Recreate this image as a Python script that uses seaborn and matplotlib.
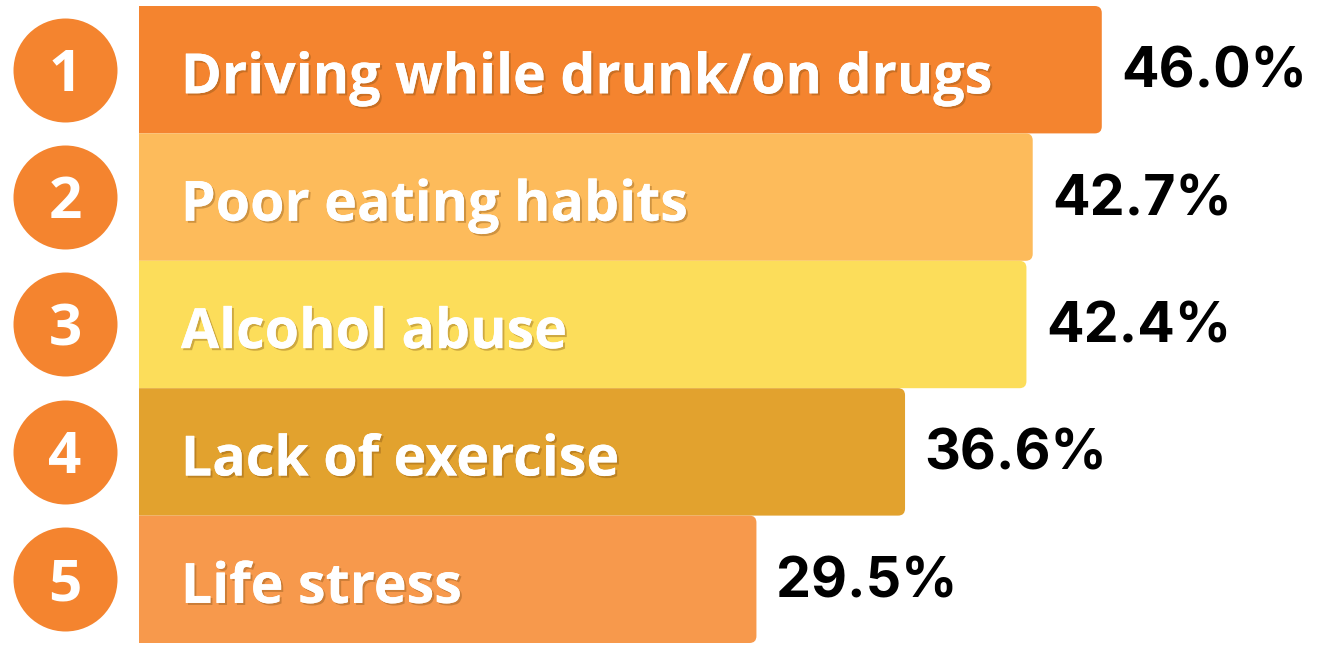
import matplotlib
matplotlib.use("Agg")
import matplotlib.pyplot as plt
import matplotlib.patheffects as pe
from matplotlib.patches import FancyBboxPatch
import seaborn as sns
import pandas as pd

categories = ["Driving while drunk/on drugs", "Poor eating habits", "Alcohol abuse",
              "Lack of exercise", "Life stress"]
values = [46.0, 42.7, 42.4, 36.6, 29.5]
ranks = ["1", "2", "3", "4", "5"]
value_labels = ["46.0%", "42.7%", "42.4%", "36.6%", "29.5%"]
bar_colors = ["#F4842F", "#FDBB5B", "#FCDD5A", "#E2A22E", "#F7994C"]
circle_color = "#F4842F"

df = pd.DataFrame({"category": categories, "value": values})

sns.set_theme(style="white")
plt.rcParams['font.family'] = ['Open Sans', 'DejaVu Sans']

W, H = 1324, 645
fig = plt.figure(figsize=(W / 100, H / 100), dpi=100)
ax_left, ax_bottom = 139 / W, 2 / H
ax_w, ax_h = (W - 139) / W, 637 / H
ax = fig.add_axes([ax_left, ax_bottom, ax_w, ax_h])

sns.barplot(data=df, y="category", x="value", hue="category", palette=bar_colors,
            orient="h", width=1.0, legend=False, ax=ax, saturation=1)

px_per_unit = 20.93
ax.set_xlim(0, (W - 139) / px_per_unit)
ax.set_ylim(len(categories) - 0.5, -0.5)

# replace bars with right-rounded versions
r_x = 7 / px_per_unit
r_y = 7 / 127.4
for p in list(ax.patches):
    x0, y0 = p.get_x(), p.get_y()
    w, h = p.get_width(), p.get_height()
    fc = p.get_facecolor()
    p.remove()
    fb = FancyBboxPatch((x0 - 1, y0), w + 1, h,
                        boxstyle=f"round,pad=0,rounding_size={r_x}",
                        mutation_aspect=r_y / r_x, facecolor=fc, edgecolor="none",
                        linewidth=0, zorder=2)
    ax.add_patch(fb)

shadow = [pe.withSimplePatchShadow(offset=(1.5, -1.5), shadow_rgbFace="#7a4a10", alpha=0.35),
          pe.Normal()]

for i, (cat, v, lab, rk) in enumerate(zip(categories, values, value_labels, ranks)):
    ax.annotate(cat, xy=(2.0, i), xytext=(0, -17), textcoords="offset points",
                color="white", fontsize=40, fontweight="bold",
                va="baseline", ha="left", zorder=5, path_effects=shadow,
                family=["Open Sans", "DejaVu Sans"])
    ax.annotate(lab, xy=(v, i), xytext=(14, -13), textcoords="offset points",
                va="baseline", ha="left", fontsize=40, fontweight="bold", color="black",
                family=["Inter", "DejaVu Sans"], zorder=5)

# rank circles
cx = (65 - 139) / px_per_unit
ax.scatter([cx] * len(ranks), list(range(len(ranks))), s=(104 * 0.72) ** 2,
           color=circle_color, clip_on=False, zorder=6, linewidths=0)
for i, rk in enumerate(ranks):
    ax.annotate(rk, xy=(cx, i), xytext=(0, -15), textcoords="offset points",
                color="white", fontsize=42, fontweight="bold",
                ha="center", va="baseline", zorder=7, annotation_clip=False,
                family=["Open Sans", "DejaVu Sans"])

ax.set_xlabel("")
ax.set_ylabel("")
ax.set_xticks([])
ax.set_yticks([])
for s in ax.spines.values():
    s.set_visible(False)

fig.savefig("out.png", dpi=100, facecolor="white")
